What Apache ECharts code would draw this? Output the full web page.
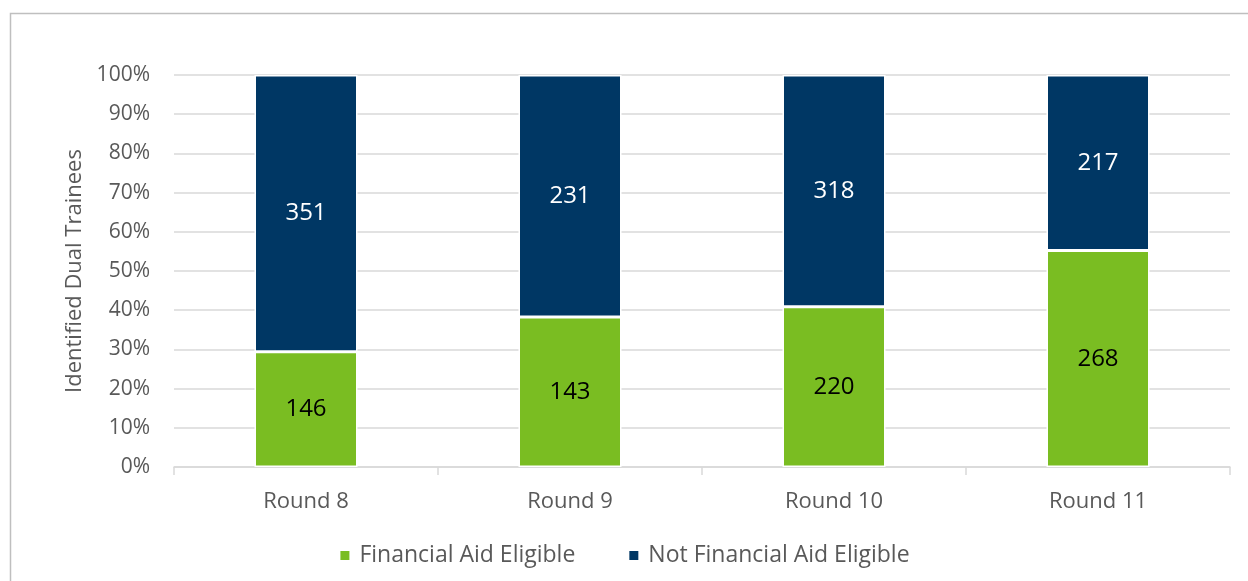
<!DOCTYPE html>
<html>
<head>
<meta charset="utf-8">
<script src="https://cdn.jsdelivr.net/npm/echarts@6/dist/echarts.min.js"></script>
<style>
  html, body { margin: 0; padding: 0; background: #fff; }
  #chart { width: 1248px; height: 581px; }
</style>
</head>
<body>
<div id="chart"></div>
<script>
// Trainee counts per round
var rounds = ['Round 8', 'Round 9', 'Round 10', 'Round 11'];
var eligible = [146, 143, 220, 268];
var notEligible = [351, 231, 318, 217];
var yTicks = [0, 10, 20, 30, 40, 50, 60, 70, 80, 90, 100];

// share of each round, so the bars stack to 100%
function share(part, other) {
    return part.map(function(v, i) { return v / (v + other[i]) * 100; });
}
var eligiblePct = share(eligible, notEligible);
var notEligiblePct = share(notEligible, eligible);

var chart = echarts.init(document.getElementById('chart'));
var font = '"Open Sans", "Liberation Sans", sans-serif';

var option = {
    animation: false,
    textStyle: { fontFamily: font },
    graphic: [{
        type: 'rect',
        shape: { x: 10.5, y: 13.5, width: 1260, height: 600 },
        style: { fill: 'none', stroke: '#bfbfbf', lineWidth: 1.5 },
        silent: true
    }],
    legend: {
        bottom: 9,
        left: 'center',
        itemWidth: 11,
        itemHeight: 11,
        itemGap: 52,
        icon: 'rect',
        textStyle: { color: '#595959', fontSize: 23, fontFamily: font, padding: [0, 0, 0, 4] },
        data: ['Financial Aid Eligible', 'Not Financial Aid Eligible']
    },
    grid: { left: 174, right: 18, top: 75, bottom: 114 },
    xAxis: {
        type: 'category',
        data: rounds,
        axisLine: { lineStyle: { color: '#d9d9d9', width: 1.5 } },
        axisTick: { show: true, length: 8, lineStyle: { color: '#d9d9d9', width: 1.5 } },
        axisLabel: { color: '#595959', fontSize: 22, margin: 24 }
    },
    yAxis: {
        type: 'value',
        min: yTicks[0],
        max: yTicks[yTicks.length - 1],
        interval: 10,
        name: 'Identified Dual Trainees',
        nameLocation: 'middle',
        nameGap: 87,
        nameTextStyle: { color: '#595959', fontSize: 22 },
        axisLine: { show: false },
        axisTick: { show: false },
        axisLabel: { color: '#595959', fontSize: 21, margin: 24, formatter: '{value}%' },
        splitLine: { lineStyle: { color: '#d9d9d9', width: 1.5 } }
    },
    series: [
        {
            name: 'Financial Aid Eligible',
            type: 'bar',
            stack: 'total',
            barWidth: 103,
            data: eligiblePct,
            itemStyle: { color: '#7abd22', borderColor: '#fff', borderWidth: 1.5 },
            label: {
                show: true,
                position: 'inside',
                color: '#000',
                fontSize: 24,
                formatter: function(p) { return eligible[p.dataIndex]; }
            }
        },
        {
            name: 'Not Financial Aid Eligible',
            type: 'bar',
            stack: 'total',
            barWidth: 103,
            data: notEligiblePct,
            itemStyle: { color: '#003764', borderColor: '#fff', borderWidth: 1.5 },
            label: {
                show: true,
                position: 'inside',
                color: '#fff',
                fontSize: 24,
                formatter: function(p) { return notEligible[p.dataIndex]; }
            }
        }
    ]
};

chart.setOption(option);
</script>
</body>
</html>
